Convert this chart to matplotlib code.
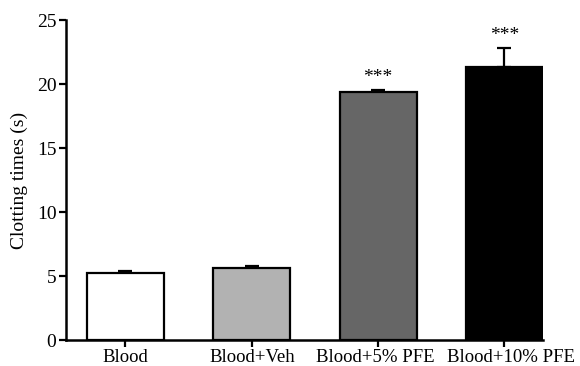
import numpy as np
import matplotlib
matplotlib.use('Agg')
import matplotlib.pyplot as plt
import matplotlib.transforms as mtransforms

groups = ['Blood', 'Blood+Veh', 'Blood+5% PFE', 'Blood+10% PFE']
means = [5.25, 5.62, 19.4, 21.3]
sems = [0.12, 0.15, 0.15, 1.55]
stars = ['', '', '***', '***']
colors = ['white', '#b2b2b2', '#666666', 'black']

plt.rcParams['font.family'] = ['Liberation Serif', 'DejaVu Serif']

fig = plt.figure(figsize=(5.8, 3.66), dpi=100)
ax = fig.add_axes([0.114, 0.071, 0.822, 0.874])

x = np.arange(len(groups))
ax.bar(x, means, width=0.61, color=colors, edgecolor='black', linewidth=1.6, zorder=2)
# only the upper half of the error bar is shown
ax.errorbar(x, means, yerr=[np.zeros(len(sems)), sems], fmt='none', ecolor='black',
            elinewidth=1.6, capsize=5, capthick=1.6, zorder=1)

for xi, m, s, st in zip(x, means, sems, stars):
    if st:
        ax.text(xi, m + s + 0.3, st, ha='center', va='bottom', fontsize=14)

ax.set_xlim(-0.47, 3.305)
ax.set_ylim(0, 25)
ax.set_yticks([0, 5, 10, 15, 20, 25])
ax.set_xticks(x)
ax.set_xticklabels(groups)
ax.set_ylabel('Clotting times (s)', fontsize=14, labelpad=6)
ax.tick_params(axis='both', labelsize=14, width=1.6, length=5, direction='out')
ax.tick_params(axis='x', pad=1.5, labelsize=13.5)
ax.tick_params(axis='y', pad=2)

# nudge the outer labels apart so the long ones don't run together
shifts = [0, 0, -3, 7]
for lab, dx in zip(ax.get_xticklabels(), shifts):
    lab.set_transform(lab.get_transform() +
                      mtransforms.ScaledTranslation(dx / 100, 0, fig.dpi_scale_trans))

for side in ['top', 'right']:
    ax.spines[side].set_visible(False)
for side in ['left', 'bottom']:
    ax.spines[side].set_linewidth(1.8)

fig.savefig('out.png', dpi=100)
